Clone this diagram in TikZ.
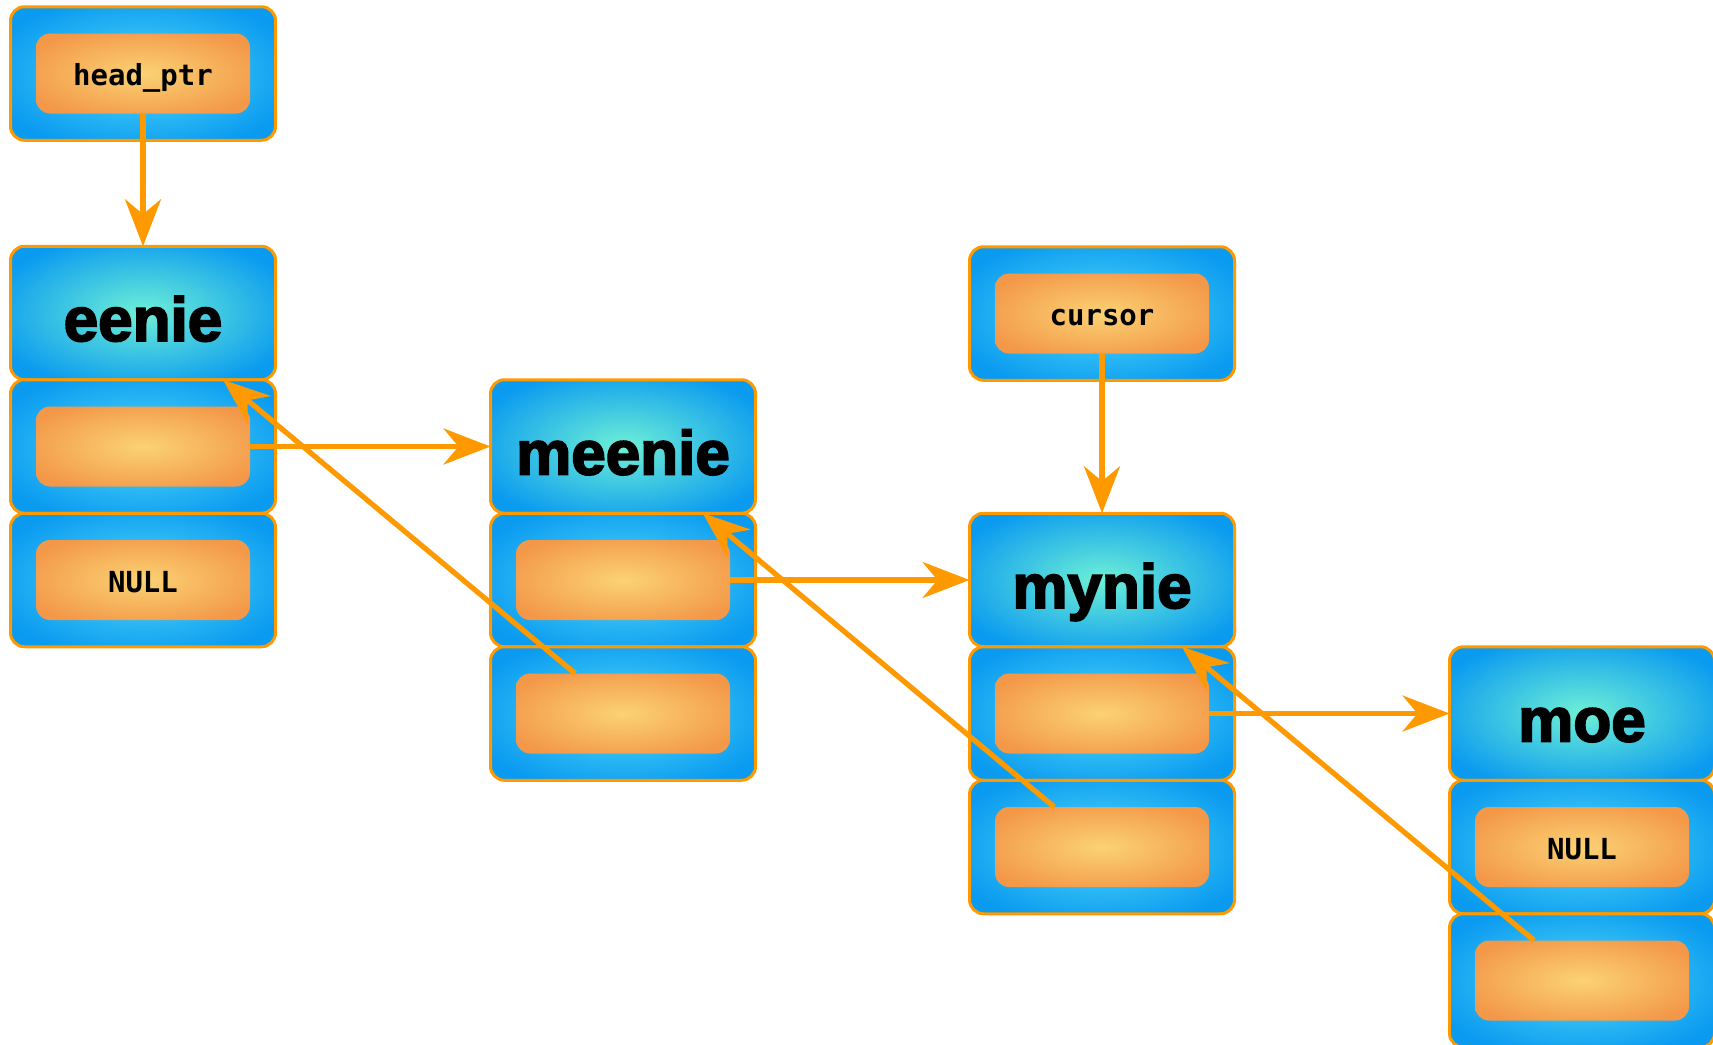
\documentclass[tikz,border=0pt]{standalone}
\usepackage{fontspec}
\usetikzlibrary{positioning,arrows.meta}

\newfontfamily\namefont{Liberation Sans Bold}[FakeBold=3]
\newfontfamily\ptrfont{DejaVu Sans Mono Bold}

\definecolor{linkorange}{HTML}{FF9900}
\definecolor{cellmid}{HTML}{52DAF8}
\definecolor{headmid}{HTML}{6EF0D6}
\definecolor{celledge}{HTML}{0A9AF0}
\definecolor{ptrmid}{HTML}{FBD274}
\definecolor{ptredge}{HTML}{F39848}

\pgfdeclareradialshading{headglow}{\pgfpoint{0bp}{0bp}}{color(0bp)=(headmid); color(30bp)=(celledge); color(50bp)=(celledge)}
\pgfdeclareradialshading{cellglow}{\pgfpoint{0bp}{0bp}}{color(0bp)=(cellmid); color(30bp)=(celledge); color(50bp)=(celledge)}
\pgfdeclareradialshading{ptrglow}{\pgfpoint{0bp}{0bp}}{color(0bp)=(ptrmid); color(30bp)=(ptredge); color(50bp)=(ptredge)}

\tikzset{
  cell/.style={rectangle, rounded corners=7pt, draw=linkorange, line width=1.5pt,
    shade, shading=cellglow, minimum width=132.5pt, minimum height=66.75pt,
    inner sep=0pt, outer sep=0pt},
  header/.style={cell, shading=headglow, text height=28pt, text depth=0pt,
    font=\namefont\fontsize{31}{37}\selectfont},
  ptrbox/.style={rectangle, rounded corners=7pt, shade, shading=ptrglow,
    minimum width=107pt, minimum height=40pt, inner sep=0pt, outer sep=0pt,
    text height=12pt, text depth=0pt,
    font=\ptrfont\fontsize{14.5}{17}\selectfont},
  ptrarrow/.style={draw=linkorange, line width=2.6pt,
    -{Stealth[length=23.5pt,width=18pt,inset=7.5pt]}},
}

\begin{document}
\begin{tikzpicture}[x=0.5pt,y=-0.5pt]
  \fill[white] (0,0) rectangle (1713,1044);
  \useasboundingbox (0,0) rectangle (1713,1044);

  % outside pointers
  \node[cell] (headbox) at (143,73.5) {};
  \node[ptrbox] (headptr) at (headbox) {head\_ptr};
  \node[cell] (cursorbox) at (1102,313.5) {};
  \node[ptrbox] (cursorptr) at (cursorbox) {cursor};

  % list nodes: name, next, prev
  \foreach \lname/\x/\y/\nextlabel/\prevlabel in
      {eenie/143/313/{}/NULL, meenie/623/446.5/{}/{},
       mynie/1102/580/{}/{}, moe/1582/713.5/NULL/{}} {
    \node[header] (\lname) at (\x,\y) {\lname};
    \node[cell, below=0pt of \lname] (\lname-next) {};
    \node[cell, below=0pt of \lname-next] (\lname-prev) {};
    \node[ptrbox] (\lname-nextptr) at (\lname-next) {\nextlabel};
    \node[ptrbox] (\lname-prevptr) at (\lname-prev) {\prevlabel};
  }

  \draw[ptrarrow] (headptr) -- (eenie);
  \draw[ptrarrow] (cursorptr) -- (mynie);
  \foreach \a/\b in {eenie/meenie, meenie/mynie, mynie/moe} {
    \draw[ptrarrow] (\a-nextptr) -- (\b);
    \draw[ptrarrow] (\b-prevptr) -- (\a);
  }
\end{tikzpicture}
\end{document}
